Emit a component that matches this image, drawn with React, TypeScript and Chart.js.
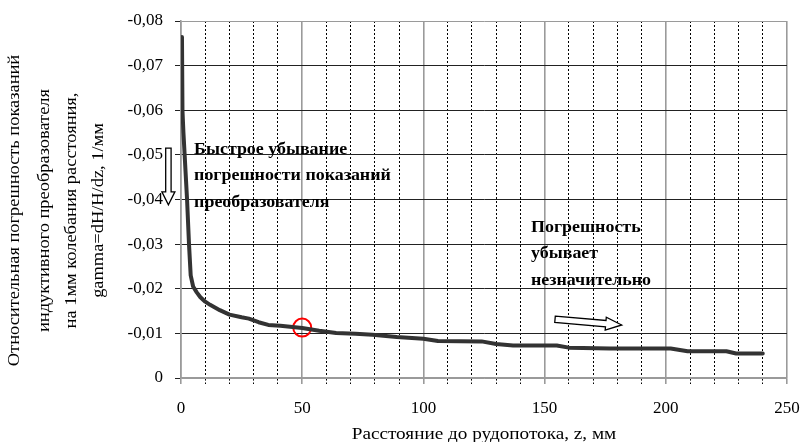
import React, { useEffect, useRef } from "react";
import { Chart, registerables } from "chart.js";

Chart.register(...registerables);

// ---- data ----
const zValues = [0.4, 0.6, 1.0, 1.6, 2.5, 3.3, 4.0, 5.0, 6.5, 8, 10, 12, 16, 20, 25, 28, 32, 36, 41, 50, 57, 64, 72, 79, 89, 100, 106, 124, 130, 137, 155, 160, 177, 202, 209, 225, 229, 240];
const gammaValues = [-0.0764, -0.060, -0.055, -0.049, -0.040, -0.030, -0.023, -0.0205, -0.0192, -0.0181, -0.0171, -0.0164, -0.0152, -0.0142, -0.0136, -0.0133, -0.0125, -0.0119, -0.0117, -0.0112, -0.0106, -0.0101, -0.0099, -0.0097, -0.0092, -0.0088, -0.0083, -0.0082, -0.0076, -0.0073, -0.0073, -0.0068, -0.0066, -0.0066, -0.0060, -0.0060, -0.0055, -0.0055];
const markedPoint = { z: 50, gamma: -0.0113 };

const xTickLabels = [0, 50, 100, 150, 200, 250];
const yTitleLines = [
  "Относительная погрешность показаний",
  "индуктивного преобразователя",
  "на 1мм колебания расстояния,",
  "gamma=dH/H/dz, 1/мм",
];
const xTitle = "Расстояние до рудопотока, z, мм";
const noteFast = ["Быстрое убывание", "погрешности показаний", "преобразователя"];
const noteSlow = ["Погрешность", "убывает", "незначительно"];

// annotation anchors in data coordinates
const noteFastPos = { z: 5.4, gammas: [-0.0511, -0.0453, -0.0392] };
const noteSlowPos = { z: 144.4, gammas: [-0.0336, -0.0278, -0.0217] };
const downArrow = { z: -5.2, from: -0.0515, headStart: -0.0417, to: -0.0388 };
const rightArrow = { z1: 154.3, g1: -0.01315, z2: 181.8, g2: -0.01188 };

const FONT = "'Liberation Serif', 'Times New Roman', serif";

function stretchedText(ctx: CanvasRenderingContext2D, text: string, x: number, y: number, sx: number, align: CanvasTextAlign) {
  ctx.save();
  ctx.translate(x, y);
  ctx.scale(sx, 1);
  ctx.textAlign = align;
  ctx.fillText(text, 0, 0);
  ctx.restore();
}

const decorPlugin = {
  id: "decor",
  afterDraw(chart: any) {
    const { ctx, scales, chartArea } = chart;
    const x = scales.x;
    const y = scales.y;
    ctx.save();
    ctx.fillStyle = "#000";
    ctx.textBaseline = "middle";

    // y-axis title (rotated, four lines)
    ctx.font = `16px ${FONT}`;
    const yCenter = (chartArea.top + chartArea.bottom) / 2 + 11;
    const lineXs = [15, 45, 72, 99];
    yTitleLines.forEach((t, i) => {
      ctx.save();
      ctx.translate(lineXs[i], yCenter);
      ctx.rotate(-Math.PI / 2);
      ctx.scale(1.15, 1);
      ctx.textAlign = "center";
      ctx.fillText(t, 0, 0);
      ctx.restore();
    });

    // x-axis title
    stretchedText(ctx, xTitle, (chartArea.left + chartArea.right) / 2, 435, 1.2, "center");

    // annotations
    ctx.font = `bold 16px ${FONT}`;
    noteFast.forEach((t, i) => {
      stretchedText(ctx, t, x.getPixelForValue(noteFastPos.z), y.getPixelForValue(noteFastPos.gammas[i]), 1.12, "left");
    });
    noteSlow.forEach((t, i) => {
      stretchedText(ctx, t, x.getPixelForValue(noteSlowPos.z), y.getPixelForValue(noteSlowPos.gammas[i]), 1.12, "left");
    });

    // down hollow arrow
    ctx.strokeStyle = "#000";
    ctx.lineWidth = 1.3;
    ctx.fillStyle = "#fff";
    {
      const cx = x.getPixelForValue(downArrow.z);
      const y0 = y.getPixelForValue(downArrow.from);
      const yh = y.getPixelForValue(downArrow.headStart);
      const y1 = y.getPixelForValue(downArrow.to);
      const sw = 2.7;
      const hw = 6.5;
      ctx.beginPath();
      ctx.moveTo(cx - sw, y0);
      ctx.lineTo(cx + sw, y0);
      ctx.lineTo(cx + sw, yh);
      ctx.lineTo(cx + hw, yh);
      ctx.lineTo(cx, y1);
      ctx.lineTo(cx - hw, yh);
      ctx.lineTo(cx - sw, yh);
      ctx.closePath();
      ctx.fill();
      ctx.stroke();
    }
    // right hollow arrow
    {
      const ax = x.getPixelForValue(rightArrow.z1);
      const ay = y.getPixelForValue(rightArrow.g1);
      const bx = x.getPixelForValue(rightArrow.z2);
      const by = y.getPixelForValue(rightArrow.g2);
      const ang = Math.atan2(by - ay, bx - ax);
      const len = Math.hypot(bx - ax, by - ay);
      const sw = 3.2;
      const hw = 6.5;
      const hl = 16;
      ctx.save();
      ctx.translate(ax, ay);
      ctx.rotate(ang);
      ctx.beginPath();
      ctx.moveTo(0, -sw);
      ctx.lineTo(len - hl, -sw);
      ctx.lineTo(len - hl, -hw);
      ctx.lineTo(len, 0);
      ctx.lineTo(len - hl, hw);
      ctx.lineTo(len - hl, sw);
      ctx.lineTo(0, sw);
      ctx.closePath();
      ctx.fill();
      ctx.stroke();
      ctx.restore();
    }
    ctx.restore();
  },
};

function fmtY(v: number): string {
  if (Math.abs(v) < 1e-9) return "0";
  return v.toFixed(2).replace(".", ",");
}

export default function App() {
  const ref = useRef<HTMLCanvasElement | null>(null);
  useEffect(() => {
    document.body.style.margin = "0";
    if (!ref.current) return;
    const chart = new Chart(ref.current, {
      type: "line",
      data: {
        datasets: [
          {
            label: "gamma",
            data: zValues.map((z, i) => ({ x: z, y: gammaValues[i] })),
            borderColor: "#333333",
            borderWidth: 4,
            pointRadius: 0,
            tension: 0,
            borderJoinStyle: "round",
            borderCapStyle: "round",
            fill: false,
          },
          {
            label: "mark",
            type: "scatter",
            data: [{ x: markedPoint.z, y: markedPoint.gamma }],
            pointRadius: 9,
            pointBorderWidth: 2,
            pointBorderColor: "#ff0000",
            pointBackgroundColor: "rgba(0,0,0,0)",
            borderColor: "#ff0000",
            backgroundColor: "rgba(0,0,0,0)",
          },
        ],
      },
      options: {
        responsive: false,
        animation: false,
        layout: { padding: { top: 21, right: 13, left: 0, bottom: 0 } },
        plugins: { legend: { display: false }, tooltip: { enabled: false } },
        scales: {
          x: {
            type: "linear",
            min: 0,
            max: 250,
            afterFit: (s: any) => { s.height = 64; s.paddingRight = 0; s.paddingLeft = 0; },
            afterBuildTicks: (s: any) => {
              const t = [];
              for (let v = 0; v <= 250; v += 10) t.push({ value: v });
              s.ticks = t;
            },
            ticks: {
              autoSkip: false,
              maxRotation: 0,
              padding: 14,
              color: "#000",
              font: { family: FONT, size: 17 },
              callback: (v: any) => (xTickLabels.includes(Number(v)) ? String(v) : ""),
            },
            grid: {
              color: (c: any) => (c.tick && c.tick.value % 50 === 0 ? "#9a9a9a" : "#000"),
              lineWidth: (c: any) => (c.tick && c.tick.value % 50 === 0 ? 1.6 : 1),
              tickLength: 6,
              tickColor: (c: any) => (c.tick && c.tick.value % 50 === 0 ? "#9a9a9a" : "#000"),
              tickBorderDash: (c: any) => (c.tick && c.tick.value % 50 === 0 ? [] : [2, 2]),
            },
            border: {
              color: "#9a9a9a",
              width: 1.6,
              dash: (c: any) => (c.tick && c.tick.value % 50 !== 0 ? [2, 2] : []),
            },
          },
          y: {
            type: "linear",
            min: -0.08,
            max: 0,
            reverse: true,
            afterFit: (s: any) => { s.width = 181; s.paddingTop = 0; s.paddingBottom = 0; },
            ticks: {
              stepSize: 0.01,
              padding: 12,
              color: "#000",
              font: { family: FONT, size: 17 },
              callback: (v: any) => fmtY(Number(v)),
            },
            grid: {
              color: (c: any) => {
                const v = c.tick ? c.tick.value : 0;
                return Math.abs(v) < 1e-9 || Math.abs(v + 0.08) < 1e-9 ? "#9a9a9a" : "#222";
              },
              lineWidth: 1,
              tickLength: 6,
              tickColor: "#222",
            },
            border: { color: "#9a9a9a", width: 1.6 },
          },
        },
      } as any,
      plugins: [decorPlugin],
    });
    return () => chart.destroy();
  }, []);
  return <canvas ref={ref} width={800} height={442} style={{ display: "block", width: 800, height: 442 }} />;
}
